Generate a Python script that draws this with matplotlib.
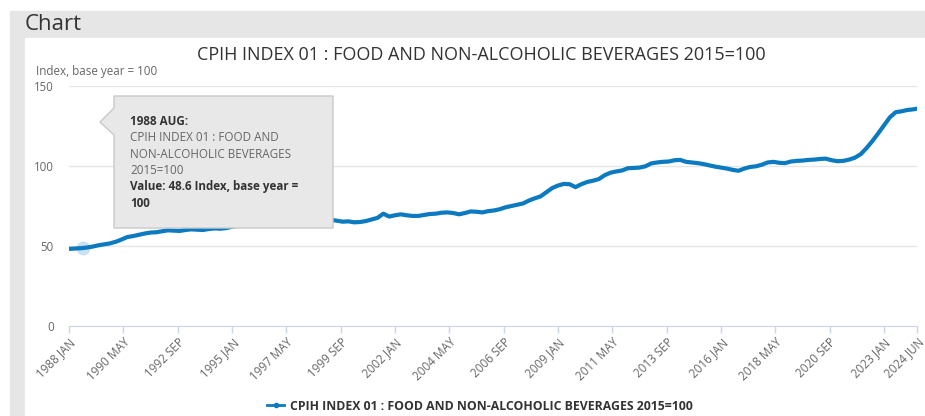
import matplotlib
matplotlib.use('Agg')
import matplotlib.pyplot as plt
from matplotlib.patches import Rectangle, Polygon
from matplotlib.lines import Line2D

plt.rcParams['font.family'] = ['Open Sans', 'DejaVu Sans']

# quarterly readings (Jan, Apr, Jul, Oct), index 2015=100
values = [
    48.2, 48.4, 48.6, 49.0,      # 1988
    49.6, 50.4, 51.0, 51.6,      # 1989
    52.6, 54.0, 55.6, 56.2,      # 1990
    57.0, 57.8, 58.4, 58.6,      # 1991
    59.2, 59.8, 59.6, 59.4,      # 1992
    60.0, 60.4, 60.2, 60.0,      # 1993
    60.6, 61.0, 60.8, 61.2,      # 1994
    62.0, 62.8, 63.4, 63.6,      # 1995
    64.6, 65.4, 65.8, 65.2,      # 1996
    64.8, 65.0, 65.4, 65.6,      # 1997
    66.2, 66.8, 67.0, 66.6,      # 1998
    66.8, 66.4, 65.8, 65.2,      # 1999
    65.4, 64.8, 65.0, 65.6,      # 2000
    66.6, 67.6, 70.2, 68.4,      # 2001
    69.2, 69.8, 69.2, 68.8,      # 2002
    68.8, 69.4, 70.0, 70.2,      # 2003
    70.8, 71.0, 70.6, 69.8,      # 2004
    70.6, 71.6, 71.4, 71.0,      # 2005
    71.8, 72.2, 73.0, 74.2,      # 2006
    75.0, 75.8, 76.6, 78.4,      # 2007
    79.8, 81.0, 83.6, 86.2,      # 2008
    87.8, 88.8, 88.6, 86.8,      # 2009
    88.6, 90.0, 90.8, 91.8,      # 2010
    94.2, 95.8, 96.6, 97.2,      # 2011
    98.6, 98.8, 99.0, 99.8,      # 2012
    101.6, 102.2, 102.6, 102.8,  # 2013
    103.6, 103.8, 102.6, 102.2,  # 2014
    101.8, 101.2, 100.4, 99.6,   # 2015
    99.0, 98.4, 97.6, 97.0,      # 2016
    98.4, 99.4, 99.8, 100.8,     # 2017
    102.2, 102.6, 102.0, 101.8,  # 2018
    102.8, 103.2, 103.4, 103.8,  # 2019
    104.0, 104.4, 104.6, 103.6,  # 2020
    103.0, 103.2, 104.0, 105.2,  # 2021
    107.4, 111.2, 115.6, 120.4,  # 2022
    125.4, 130.4, 133.6, 134.2,  # 2023
    135.0, 135.4, 135.8,         # 2024 Jan, Apr, Jun
]
months = [i * 3 for i in range(len(values) - 1)] + [437]

tick_labels = ["1988 JAN", "1990 MAY", "1992 SEP", "1995 JAN", "1997 MAY",
               "1999 SEP", "2002 JAN", "2004 MAY", "2006 SEP", "2009 JAN",
               "2011 MAY", "2013 SEP", "2016 JAN", "2018 MAY", "2020 SEP",
               "2023 JAN", "2024 JUN"]
mon_names = ["JAN", "FEB", "MAR", "APR", "MAY", "JUN",
             "JUL", "AUG", "SEP", "OCT", "NOV", "DEC"]
tick_pos = [(int(t[:4]) - 1988) * 12 + mon_names.index(t[5:]) for t in tick_labels]

y_ticks = [0, 50, 100, 150]
title = "CPIH INDEX 01 : FOOD AND NON-ALCOHOLIC BEVERAGES 2015=100"
tip_month = 7
tip_label = "1988 AUG"
tip_value = 48.6

W, H = 925, 416
fig = plt.figure(figsize=(W / 100, H / 100), dpi=100)


def fx(x):
    return x / W


def fy(y):
    return 1 - y / H


# page background
fig.patches.append(Rectangle((fx(10), 0), 1 - fx(10), fy(11), transform=fig.transFigure,
                             color='#e6e6e6', zorder=-10))
fig.patches.append(Rectangle((fx(25), 0), 1 - fx(25), fy(38), transform=fig.transFigure,
                             color='white', zorder=-9))
fig.text(fx(25), fy(24), "Chart", fontsize=16, color='#333333', va='center', ha='left')

ax = fig.add_axes([fx(69), fy(326), fx(917) - fx(69), fy(86) - fy(326)])
ax.set_facecolor('none')
ax.plot(months, values, color='#0b7ac0', lw=3, solid_joinstyle='round',
        solid_capstyle='round', zorder=3)
ax.plot(tip_month, tip_value, 'o', ms=10, color='#0b7ac0', alpha=0.22, mec='none', zorder=2)

ax.set_xlim(0, 437)
ax.set_ylim(0, 150)
ax.set_yticks(y_ticks)
ax.set_yticklabels([str(v) for v in y_ticks])
ax.set_xticks(tick_pos)
ax.set_xticklabels(tick_labels, rotation=45, ha='right', rotation_mode='anchor')
ax.grid(axis='y', color='#e6e6e6', lw=1)
ax.set_axisbelow(True)
for s in ['top', 'right', 'left']:
    ax.spines[s].set_visible(False)
ax.spines['bottom'].set_color('#ccd6eb')
ax.spines['bottom'].set_zorder(4)
ax.tick_params(axis='y', length=0, pad=11, labelsize=8.3, labelcolor='#666666')
ax.tick_params(axis='x', length=5, width=1, color='#ccd6eb', pad=2,
               labelsize=8.4, labelcolor='#666666')

fig.text(fx(481), fy(55), title, fontsize=13, color='#333333', ha='center', va='center')
fig.text(fx(36), fy(72), "Index, base year = 100", fontsize=8.4, color='#666666',
         ha='left', va='center')

# tooltip
pts = [(100, 122), (114, 108), (114, 96), (333, 96), (333, 228), (114, 228), (114, 135)]
fig.patches.append(Polygon([(fx(a), fy(b)) for a, b in pts], closed=True,
                           transform=fig.transFigure, facecolor='#e8e8e8',
                           edgecolor='#c9c9c9', lw=1, zorder=20))
tip_lines = [
    (tip_label + ":", 'bold', '#333333'),
    ("CPIH INDEX 01 : FOOD AND", 'normal', '#666666'),
    ("NON-ALCOHOLIC BEVERAGES", 'normal', '#666666'),
    ("2015=100", 'normal', '#666666'),
    ("Value: %.1f Index, base year =" % tip_value, 'bold', '#333333'),
    ("100", 'bold', '#333333'),
]
for i, (txt, wt, col) in enumerate(tip_lines):
    fig.text(fx(130), fy(125 + i * 16.3), txt, fontsize=8.4, weight=wt, color=col,
             ha='left', va='baseline', zorder=21)

handle = Line2D([], [], color='#0b7ac0', lw=2, marker='o', ms=3)
fig.legend([handle], [title], loc='center', bbox_to_anchor=(fx(480), fy(406)),
           frameon=False, prop=dict(weight='bold', size=8.8), labelcolor='#333333',
           handlelength=1.4, handletextpad=0.5)

fig.savefig('out.png', dpi=100)
